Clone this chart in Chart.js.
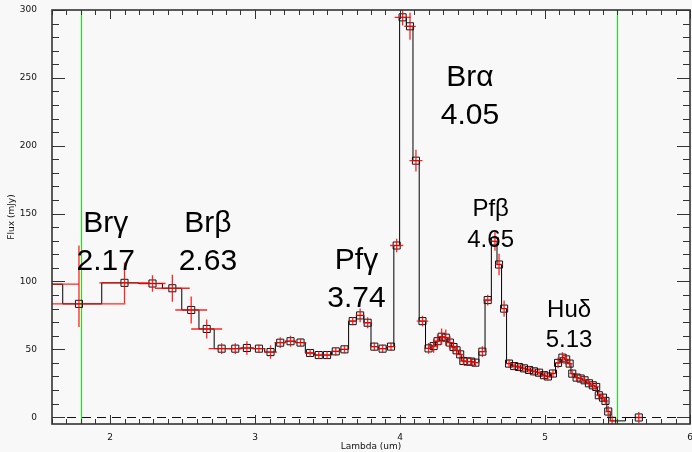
<!DOCTYPE html>
<html>
<head>
<meta charset="utf-8">
<script src="https://cdn.jsdelivr.net/npm/chart.js@4.4.1/dist/chart.umd.min.js"></script>
<style>
  html, body { margin: 0; padding: 0; background: #f8f8f8; }
  #box { width: 692px; height: 452px; }
</style>
</head>
<body>
<div id="box"><canvas id="spec" width="692" height="452"></canvas></div>
<script>
"use strict";

// spectrum
const wavelength = [
  1.562, 1.786, 2.100, 2.293, 2.430, 2.560, 2.667, 2.770, 2.864, 2.944,
  3.027, 3.107, 3.174, 3.245, 3.314, 3.380, 3.440, 3.497, 3.557, 3.617,
  3.674, 3.725, 3.777, 3.823, 3.880, 3.938, 3.977, 4.018, 4.069, 4.110,
  4.155, 4.197, 4.232, 4.259, 4.287, 4.316, 4.344, 4.369, 4.390, 4.415,
  4.437, 4.465, 4.490, 4.520, 4.568, 4.605, 4.655, 4.683, 4.718, 4.752,
  4.787, 4.820, 4.855, 4.890, 4.924, 4.959, 4.993, 5.020, 5.055, 5.090,
  5.120, 5.146, 5.170, 5.188, 5.218, 5.246, 5.273, 5.303, 5.330, 5.353,
  5.371, 5.400, 5.417, 5.436, 5.463, 5.647
];
const flux = [
  98, 83.5, 99, 98.5, 95, 79, 65, 50.5, 50.5, 51,
  50.5, 48, 54.9, 56, 55, 47.3, 45.8, 45.8, 48.5, 50,
  70.8, 75, 69.6, 52, 50.5, 52, 126.5, 294.6, 288, 189,
  70.8, 50.7, 52.4, 56, 59.3, 58.6, 55, 51.7, 49.3, 46.3,
  41.4, 41, 41, 40.2, 48.3, 86.3, 129.6, 112.5, 80, 39.5,
  37.7, 37, 36, 34.8, 33.8, 32.8, 31, 30, 32.2, 40,
  43.9, 42.6, 39.5, 32.1, 29.2, 28.5, 27.2, 25, 23.5, 22.3,
  16.2, 14.4, 12, 4.2, -2.7, -0.2
];
const wavelengthErr = [
  0.224, 0.32, 0.174, 0.09, 0.12, 0.11, 0.107, 0.09, 0.05, 0.05,
  0.045, 0.045, 0.04, 0.04, 0.04, 0.035, 0.03, 0.03, 0.03, 0.03,
  0.03, 0.03, 0.03, 0.03, 0.03, 0.03, 0.045, 0.055, 0.04, 0.045,
  0.04, 0.03, 0.03, 0.03, 0.03, 0.03, 0.03, 0.03, 0.025, 0.025,
  0.025, 0.025, 0.025, 0.025, 0.03, 0.03, 0.025, 0.025, 0.025, 0.025,
  0.02, 0.02, 0.02, 0.02, 0.02, 0.02, 0.02, 0.02, 0.02, 0.02,
  0.02, 0.02, 0.02, 0.02, 0.02, 0.02, 0.02, 0.02, 0.02, 0.02,
  0.02, 0.02, 0.02, 0.02, 0.02, 0.02
];
const fluxErrLow = [
  15, 17, 15, 6, 10, 10, 7, 4, 4, 5,
  3, 5, 4, 4, 3, 3, 3, 3, 3, 3,
  3, 5, 4, 3, 3, 3, 5, 6, 10, 8,
  4, 4, 5, 5, 6, 6, 5, 4, 4, 4,
  3, 3, 3, 3, 4, 4, 7, 8, 6, 3,
  3, 3, 3, 3, 3, 3, 3, 3, 3, 4,
  4, 4, 3, 3, 3, 3, 3, 3, 3, 3,
  3, 3, 3, 4, 4, 4
];
const fluxErrHigh = [
  15, 43, 15, 6, 10, 10, 7, 4, 4, 5,
  3, 5, 4, 4, 3, 3, 3, 3, 3, 3,
  3, 5, 4, 3, 3, 3, 5, 6, 10, 8,
  4, 4, 5, 5, 6, 6, 5, 4, 4, 4,
  3, 3, 3, 3, 4, 4, 7, 8, 6, 3,
  3, 3, 3, 3, 3, 3, 3, 3, 3, 4,
  4, 4, 3, 3, 3, 3, 3, 3, 3, 3,
  3, 3, 3, 4, 4, 4
];

const xTicks = [2, 3, 4, 5, 6];
const yTicks = [0, 50, 100, 150, 200, 250, 300];
const bandEdges = [1.8, 5.5];

const lineNames = ["Brγ", "Brβ", "Pfγ", "Brα", "Pfβ", "Huδ"];
const lineWaves = ["2.17", "2.63", "3.74", "4.05", "4.65", "5.13"];

// where the line labels sit (data units, first-line baseline) and how big
const labelSpots = [
  { x: 1.97, y: 136.5, size: 30 },
  { x: 2.675, y: 136.5, size: 30 },
  { x: 3.70, y: 109, size: 30 },
  { x: 4.483, y: 244, size: 30 },
  { x: 4.625, y: 148, size: 24 },
  { x: 5.166, y: 74, size: 24 }
];

const idlFrame = {
  id: "idlFrame",
  beforeDraw(chart) {
    const ctx = chart.ctx;
    ctx.save();
    ctx.fillStyle = "#f8f8f8";
    ctx.fillRect(0, 0, chart.width, chart.height);
    ctx.restore();
  },
  beforeDatasetsDraw(chart) {
    const { ctx, chartArea: a, scales } = chart;
    ctx.save();
    // green band edges
    ctx.strokeStyle = "#22dd22";
    ctx.lineWidth = 1.2;
    bandEdges.forEach((w) => {
      const px = Math.round(scales.x.getPixelForValue(w)) + 0.5;
      ctx.beginPath();
      ctx.moveTo(px, a.top);
      ctx.lineTo(px, a.bottom);
      ctx.stroke();
    });
    // dashed zero level
    const y0 = Math.round(scales.y.getPixelForValue(0)) + 0.5;
    ctx.strokeStyle = "#111";
    ctx.lineWidth = 1;
    ctx.setLineDash([9, 6]);
    ctx.beginPath();
    ctx.moveTo(a.left, y0);
    ctx.lineTo(a.right, y0);
    ctx.stroke();
    ctx.restore();
  },
  afterDatasetsDraw(chart) {
    const { ctx, chartArea: a, scales } = chart;
    const xs = scales.x, ys = scales.y;

    // error bars
    ctx.save();
    ctx.beginPath();
    ctx.rect(a.left, a.top, a.right - a.left, a.bottom - a.top);
    ctx.clip();
    ctx.strokeStyle = "rgba(255,0,0,0.85)";
    ctx.lineWidth = 1.3;
    wavelength.forEach((w, i) => {
      const px = xs.getPixelForValue(w);
      const py = ys.getPixelForValue(flux[i]);
      ctx.beginPath();
      ctx.moveTo(xs.getPixelForValue(w - wavelengthErr[i]), py);
      ctx.lineTo(xs.getPixelForValue(w + wavelengthErr[i]), py);
      ctx.moveTo(px, ys.getPixelForValue(flux[i] - fluxErrLow[i]));
      ctx.lineTo(px, ys.getPixelForValue(flux[i] + fluxErrHigh[i]));
      ctx.stroke();
    });
    ctx.restore();

    // line labels
    ctx.save();
    ctx.fillStyle = "#000";
    ctx.textAlign = "center";
    ctx.textBaseline = "alphabetic";
    labelSpots.forEach((s, i) => {
      const px = xs.getPixelForValue(s.x);
      const py = ys.getPixelForValue(s.y);
      ctx.font = s.size + "px 'Liberation Sans', Arial, sans-serif";
      ctx.fillText(lineNames[i], px, py);
      ctx.fillText(lineWaves[i], px, py + s.size * 1.27);
    });
    ctx.restore();
  },
  afterDraw(chart) {
    const { ctx, chartArea: a, scales } = chart;
    const xs = scales.x, ys = scales.y;
    ctx.save();
    ctx.strokeStyle = "#333";
    ctx.lineWidth = 1;
    ctx.beginPath();
    for (let i = 16; i <= 60; i++) {
      const px = Math.round(xs.getPixelForValue(i / 10)) + 0.5;
      const len = i % 10 === 0 ? 9 : 5;
      ctx.moveTo(px, a.bottom);
      ctx.lineTo(px, a.bottom - len);
      ctx.moveTo(px, a.top);
      ctx.lineTo(px, a.top + len);
    }
    for (let v = 0; v <= 300; v += 10) {
      const py = Math.round(ys.getPixelForValue(v)) + 0.5;
      const len = v % 50 === 0 ? 13 : 7;
      ctx.moveTo(a.left, py);
      ctx.lineTo(a.left + len, py);
      ctx.moveTo(a.right, py);
      ctx.lineTo(a.right - len, py);
    }
    ctx.stroke();
    ctx.lineWidth = 1.6;
    ctx.strokeRect(a.left, a.top, a.right - a.left, a.bottom - a.top);
    ctx.restore();
  }
};

const tickFont = { family: "'DejaVu Sans', sans-serif", size: 9 };

const config = {
  type: "line",
  data: {
    datasets: [
      {
        data: wavelength.map((w, i) => ({ x: w, y: flux[i] })),
        stepped: "middle",
        borderColor: "#000",
        borderWidth: 1,
        pointStyle: "rect",
        pointRadius: 5,
        pointBorderWidth: 1,
        pointBorderColor: "#111",
        pointBackgroundColor: "rgba(0,0,0,0)",
      },
    ],
  },
  options: {
    responsive: false,
    animation: false,
    events: [],
    layout: { autoPadding: false, padding: { top: 10, right: 2, left: 0, bottom: 0 } },
    plugins: { legend: { display: false }, tooltip: { enabled: false } },
    scales: {
      x: {
        type: "linear",
        min: 1.6,
        max: 6,
        grid: { display: false },
        border: { display: false },
        afterBuildTicks: (s) => { s.ticks = xTicks.map((v) => ({ value: v })); },
        afterFit: (s) => {
          s.height = 28;
          s.paddingLeft = 0;
          s.paddingRight = 0;
        },
        ticks: { color: "#111", font: tickFont, padding: 0, maxRotation: 0, autoSkip: false },
        title: {
          display: true,
          text: "Lambda (um)",
          color: "#111",
          font: { family: "'DejaVu Sans', sans-serif", size: 9 },
          padding: { top: 0, bottom: 0 },
        },
      },
      y: {
        min: -5,
        max: 300,
        grid: { display: false },
        border: { display: false },
        afterBuildTicks: (s) => { s.ticks = yTicks.map((v) => ({ value: v })); },
        afterFit: (s) => {
          s.width = 52;
          s.paddingTop = 0;
          s.paddingBottom = 0;
        },
        ticks: { color: "#111", font: tickFont, padding: 7, autoSkip: false },
        title: {
          display: true,
          text: "Flux (mJy)",
          color: "#111",
          font: { family: "'DejaVu Sans', sans-serif", size: 9 },
          padding: { top: 6, bottom: 0 },
        },
      },
    },
  },
  plugins: [idlFrame],
};

const specChart = new Chart(document.getElementById("spec"), config);
</script>
</body>
</html>
